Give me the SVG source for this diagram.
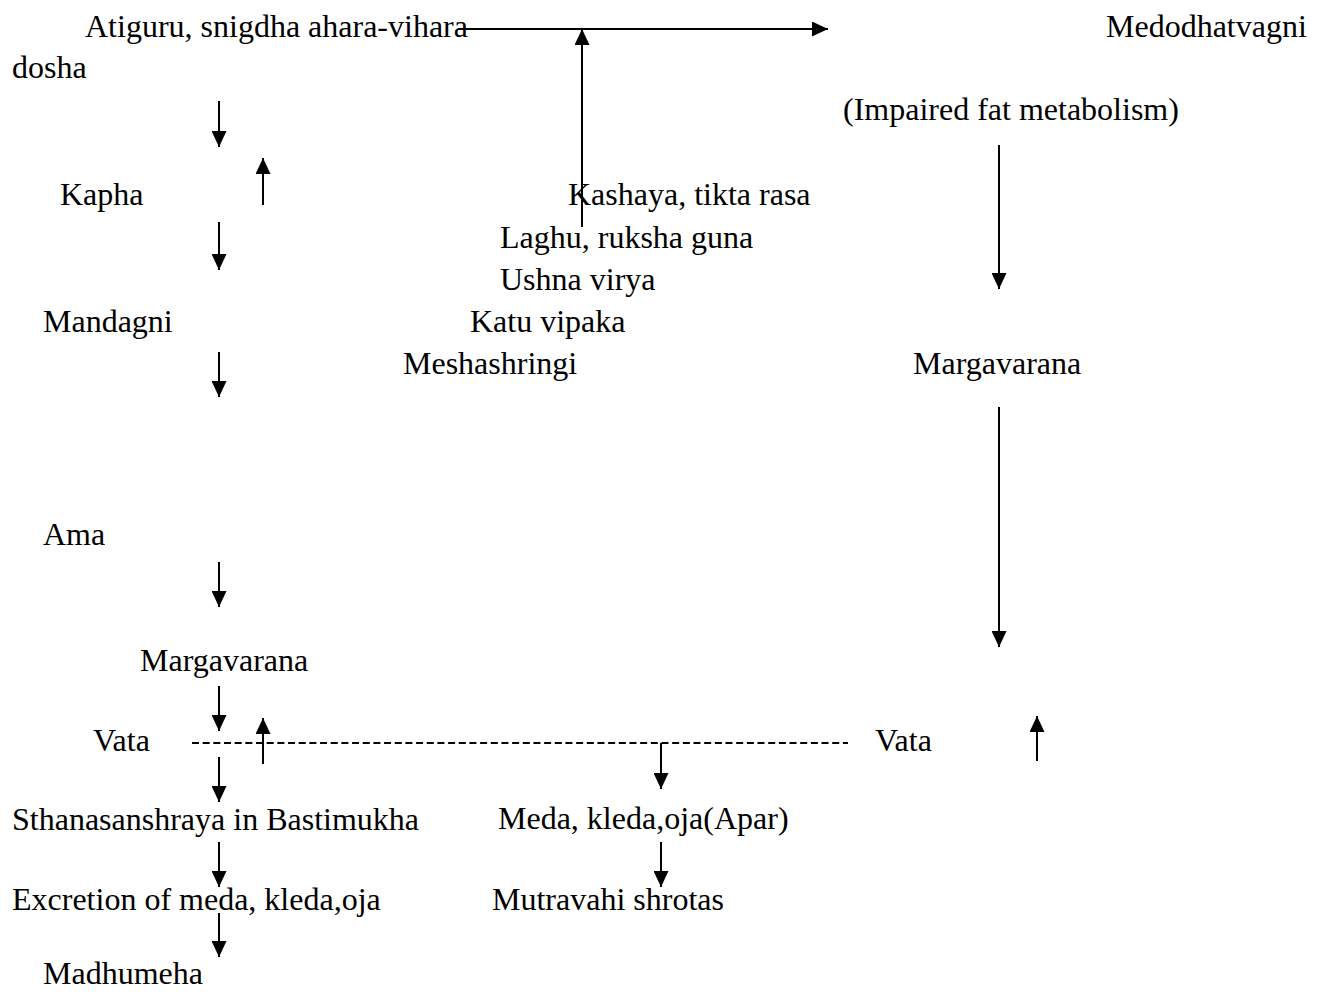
<svg xmlns="http://www.w3.org/2000/svg" width="1322" height="992" viewBox="0 0 1322 992">
<style>
text { font-family: "Liberation Serif", "Times New Roman", serif; font-size: 32px; fill: #000; }
.c { stroke: #000; stroke-width: 2; fill: none; }
.a { marker-end: url(#ah); }
.d { stroke-dasharray: 7 3.67; }
</style>
<defs>
<marker id="ah" markerUnits="userSpaceOnUse" markerWidth="16" markerHeight="15" refX="16" refY="7.5" orient="auto">
<path d="M0,0 L16,7.5 L0,15 z" fill="#000"/>
</marker>
</defs>
<rect width="1322" height="992" fill="#fff"/>
<g id="connectors">
<line class="c a" x1="458" y1="29" x2="828" y2="29"/>
<line class="c a" x1="582" y1="227" x2="582" y2="29"/>
<line class="c a" x1="219" y1="101" x2="219" y2="147"/>
<line class="c a" x1="263" y1="205" x2="263" y2="158"/>
<line class="c a" x1="219" y1="222" x2="219" y2="270"/>
<line class="c a" x1="219" y1="352" x2="219" y2="397"/>
<line class="c a" x1="999" y1="145" x2="999" y2="289"/>
<line class="c a" x1="999" y1="407" x2="999" y2="647"/>
<line class="c a" x1="219" y1="562" x2="219" y2="607"/>
<line class="c a" x1="219" y1="686" x2="219" y2="731"/>
<line class="c a" x1="263" y1="764" x2="263" y2="718"/>
<line class="c d" x1="192" y1="743" x2="848" y2="743"/>
<line class="c a" x1="661" y1="743" x2="661" y2="789"/>
<line class="c a" x1="1037" y1="761" x2="1037" y2="716"/>
<line class="c a" x1="219" y1="757" x2="219" y2="802"/>
<line class="c a" x1="219" y1="842" x2="219" y2="887"/>
<line class="c a" x1="661" y1="842" x2="661" y2="887"/>
<line class="c a" x1="219" y1="913" x2="219" y2="957"/>
</g>
<g id="n-atiguru"><text x="85" y="37">Atiguru, snigdha ahara-vihara</text></g>
<g id="n-dosha"><text x="12" y="78">dosha</text></g>
<g id="n-medodhatvagni"><text x="1106" y="37">Medodhatvagni</text></g>
<g id="n-impaired"><text x="843" y="120">(Impaired fat metabolism)</text></g>
<g id="n-kapha"><text x="60" y="205">Kapha</text></g>
<g id="n-kashaya"><text x="568" y="205">Kashaya, tikta rasa</text></g>
<g id="n-laghu"><text x="500" y="248">Laghu, ruksha guna</text></g>
<g id="n-ushna"><text x="500" y="290">Ushna virya</text></g>
<g id="n-mandagni"><text x="43" y="332">Mandagni</text></g>
<g id="n-katu"><text x="470" y="332">Katu vipaka</text></g>
<g id="n-meshashringi"><text x="403" y="374">Meshashringi</text></g>
<g id="n-margavarana-r"><text x="913" y="374">Margavarana</text></g>
<g id="n-ama"><text x="43" y="545">Ama</text></g>
<g id="n-margavarana-l"><text x="140" y="671">Margavarana</text></g>
<g id="n-vata-l"><text x="93" y="751">Vata</text></g>
<g id="n-vata-r"><text x="875" y="751">Vata</text></g>
<g id="n-sthana"><text x="12" y="830">Sthanasanshraya in Bastimukha</text></g>
<g id="n-meda"><text x="498" y="829">Meda, kleda,oja(Apar)</text></g>
<g id="n-excretion"><text x="12" y="910">Excretion of meda, kleda,oja</text></g>
<g id="n-mutravahi"><text x="492" y="910">Mutravahi shrotas</text></g>
<g id="n-madhumeha"><text x="43" y="984">Madhumeha</text></g>
</svg>
